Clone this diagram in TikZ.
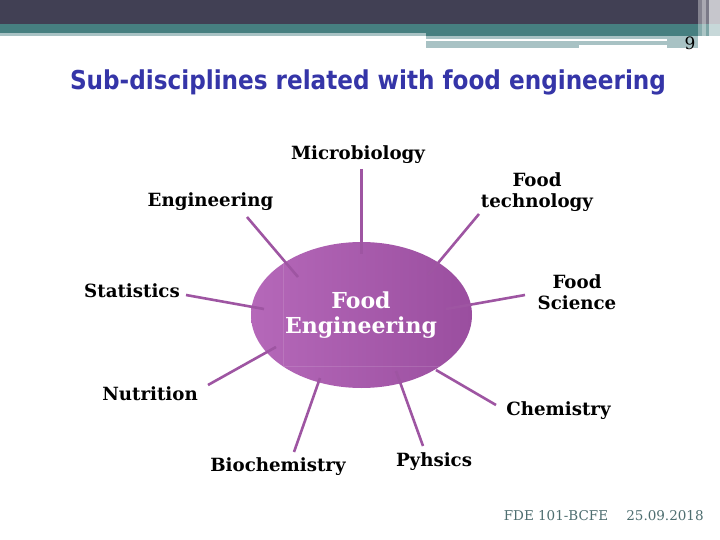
\documentclass[tikz,border=0pt]{standalone}
\usepackage{fontspec}
\setmainfont{DejaVu Serif}
\newfontfamily\titlefont[FakeStretch=0.89]{DejaVu Sans}
\usetikzlibrary{shapes.geometric}
\definecolor{hdrdark}{HTML}{414054}
\definecolor{hdrteal}{HTML}{467F80}
\definecolor{hdrlight}{HTML}{A8C2C4}
\definecolor{titleblue}{HTML}{3535A8}
\definecolor{spokecol}{HTML}{9E55A2}
\definecolor{ellL}{HTML}{B568B9}
\definecolor{ellR}{HTML}{9A4E9F}
\definecolor{footcol}{HTML}{4E6E70}
\tikzset{
  topic/.style={font=\bfseries\fontsize{18.2}{21}\selectfont, align=center, inner sep=0pt, text=black},
  spoke/.style={draw=spokecol, line width=2.6pt},
  footer/.style={font=\fontsize{13.5}{14}\selectfont, text=footcol, inner sep=0pt}
}
\begin{document}
\begin{tikzpicture}[x=1pt,y=-1pt]
\useasboundingbox (0,0) rectangle (720,540);
\fill[white] (0,0) rectangle (720,540);
% header
\fill[hdrdark] (0,0) rectangle (720,24);
\fill[hdrteal] (0,24) rectangle (720,36);
\fill[hdrlight] (0,33) rectangle (426,36);
\fill[hdrlight] (426,36) rectangle (698,48);
\fill[white] (426,39) rectangle (667,41.5);
\fill[white] (579,45) rectangle (667,48);
\fill[white,opacity=0.35] (698,0) rectangle (702,50);
\fill[white,opacity=0.55] (702,0) rectangle (706,50);
\fill[white,opacity=0.3] (706,0) rectangle (709,50);
\fill[white,opacity=0.7] (709,0) rectangle (720,50);
\node[inner sep=0pt, font=\fontsize{17}{17}\selectfont] (pg) at (690,43) {9};
% title
\node[text=titleblue, inner sep=0pt, font=\titlefont\bfseries\fontsize{26}{26}\selectfont] (title) at (368,82) {Sub-disciplines related with food engineering};
% centre ellipse
\node[ellipse, left color=ellL, right color=ellR, minimum width=221pt, minimum height=146pt, inner sep=0pt] (fe) at (361.5,315) {};
\begin{scope}
\clip (361.5,315) ellipse [x radius=110.5, y radius=73];
\draw[white, opacity=0.12, line width=0.8pt] (283,262) -- (283,366) -- (472,366);
\end{scope}
\node[text=white, align=center, inner sep=0pt, font=\bfseries\fontsize{22}{25}\selectfont] (fetext) at (361,315) {Food\\Engineering};
% labels
\node[topic] (micro) at (358,155) {Microbiology};
\node[topic] (eng) at (210.5,202) {Engineering};
\node[topic] (ftech) at (537,192) {Food\\technology};
\node[topic] (stat) at (132,291) {Statistics};
\node[topic] (fsci) at (577,292) {Food\\Science};
\node[topic] (nutr) at (150,394) {Nutrition};
\node[topic] (bioc) at (278,467) {Biochemistry};
\node[topic] (phys) at (434,462) {Pyhsics};
\node[topic] (chem) at (558.5,411) {Chemistry};
% spoke ends
\coordinate (microA) at (361.4,169);  \coordinate (microB) at (361.4,254);
\coordinate (engA) at (247,217);      \coordinate (engB) at (298,277);
\coordinate (ftechA) at (479,214);    \coordinate (ftechB) at (428,275);
\coordinate (statA) at (186,295);     \coordinate (statB) at (264,309);
\coordinate (fsciA) at (525,295);     \coordinate (fsciB) at (446,309);
\coordinate (nutrA) at (208,385);     \coordinate (nutrB) at (276,347);
\coordinate (biocA) at (294,452);     \coordinate (biocB) at (320,378);
\coordinate (physA) at (423,446);     \coordinate (physB) at (396,371);
\coordinate (chemA) at (496,405);     \coordinate (chemB) at (436,370);
\foreach \s in {micro,eng,ftech,stat,fsci,nutr,bioc,phys,chem}
  \draw[spoke] (\s A) -- (\s B);
% footer
\node[footer] (code) at (556,516) {FDE 101-BCFE};
\node[footer] (date) at (665,516) {25.09.2018};
\end{tikzpicture}
\end{document}
